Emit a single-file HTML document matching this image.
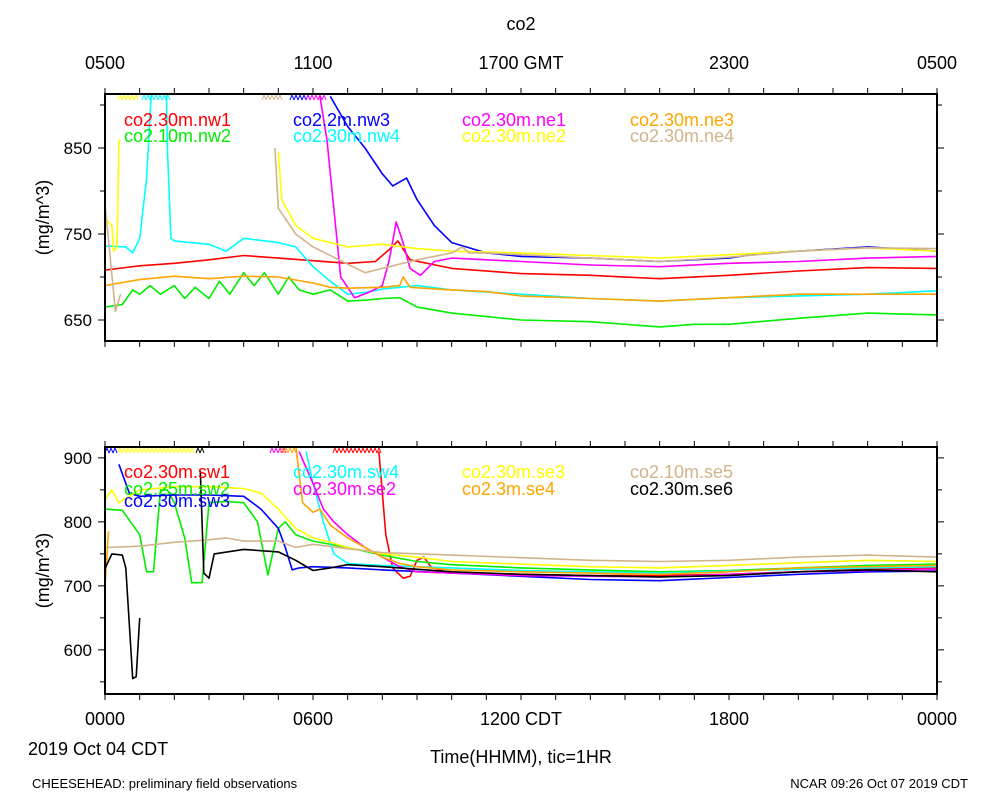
<!DOCTYPE html>
<html><head><meta charset="utf-8"><style>
body{margin:0;background:#fff;}
svg{display:block;font-family:"Liberation Sans",sans-serif;}
</style></head><body>
<svg id="chart" width="1000" height="800" viewBox="0 0 1000 800" xmlns="http://www.w3.org/2000/svg">
<text x="521" y="30" font-size="18" text-anchor="middle">co2</text>
<g id="top"></g><g id="bot"></g>
<text x="28" y="755" font-size="18">2019 Oct 04 CDT</text>
<text x="521" y="763" font-size="18" text-anchor="middle">Time(HHMM), tic=1HR</text>
<text x="32" y="788" font-size="13">CHEESEHEAD: preliminary field observations</text>
<text x="968" y="788" font-size="13" text-anchor="end">NCAR 09:26 Oct 07 2019 CDT</text>
</svg>
<script>
// ---- data (time in hours from 0000 CDT, values in mg/m^3; null = gap) ----
const topNames=["co2.30m.nw1","co2.10m.nw2","co2.2m.nw3","co2.30m.nw4","co2.30m.ne1","co2.30m.ne2","co2.30m.ne3","co2.30m.ne4"];
const topColors=["#ff0000","#00ee00","#0000ff","#00ffff","#ff00ff","#ffff00","#ffa500","#d2b48c"];
const nw1T=[0,1,2,3,4,5,6,7,7.8,8.2,8.45,8.8,10,12,14,16,18,20,22,24];
const nw1V=[708,713,716,720,725,722,719,716,718,732,742,720,710,704,702,698,702,707,711,710];
const nw2T=[0,0.5,0.8,1,1.3,1.6,2,2.3,2.6,3,3.3,3.6,4,4.3,4.6,5,5.3,5.6,6,6.5,7,7.5,8,8.5,9,10,12,14,16,17,18,20,22,24];
const nw2V=[665,668,685,680,690,680,690,675,688,675,695,680,705,690,705,680,700,685,680,685,672,673,675,676,665,658,650,648,642,645,645,652,658,656];
const nw3T=[6.5,7,7.5,8,8.3,8.7,9,9.5,10,11,12,14,16,18,19,20,22,24];
const nw3V=[910,875,850,820,806,815,790,760,740,728,724,722,718,722,728,730,735,730];
const nw4T=[0,0.6,0.8,1,1.2,1.4,1.75,1.8,1.9,2,3,3.5,4,5,5.5,6,6.5,7,7.5,8,9,10,12,14,16,18,20,22,24];
const nw4V=[736,735,728,745,815,960,960,850,745,742,738,730,745,740,735,712,695,680,682,686,690,685,680,675,672,676,678,680,684];
const ne1T=[6.2,6.4,6.8,7.2,7.6,8,8.2,8.4,8.6,8.8,9.1,9.5,10,12,14,16,18,20,22,24];
const ne1V=[910,860,700,676,682,690,720,764,740,710,702,718,722,718,714,712,716,718,722,724];
const ne2T=[0,0.2,0.25,0.35,0.4,0.41,5.0,5.1,5.5,6,7,8,9,10,12,14,16,18,20,22,24];
const ne2V=[768,760,730,735,860,null,845,790,760,745,735,738,733,730,728,725,722,726,730,734,730];
const ne3T=[0,1,2,3,4,5,6,6.5,7,8,8.5,8.6,8.8,10,11,12,14,16,18,20,24];
const ne3V=[690,697,701,698,701,700,693,688,687,688,690,700,688,685,683,678,675,672,676,680,680];
const ne4T=[0,0.3,0.45,0.46,4.9,5,5.5,6,7,7.5,8,9,10,10.3,10.5,11,12,14,16,18,20,22,24];
const ne4V=[785,660,680,null,850,780,750,735,715,705,710,720,728,735,728,728,726,722,718,723,730,734,733];

const botNames=["co2.30m.sw1","co2.25m.sw2","co2.30m.sw3","co2.30m.sw4","co2.30m.se2","co2.30m.se3","co2.3m.se4","co2.10m.se5","co2.30m.se6"];
const botColors=["#ff0000","#00ee00","#0000ff","#00ffff","#ff00ff","#ffff00","#ffa500","#d2b48c","#000000"];
const sw1T=[7.9,8.1,8.3,8.6,8.8,9.0,9.2,9.4,9.8,10,12,14,16,18,20,22,24];
const sw1V=[910,780,728,712,715,740,745,730,722,720,718,716,716,718,722,726,728];
const sw2T=[0,0.5,1.0,1.2,1.4,1.6,1.8,2.0,2.3,2.5,2.8,3.0,3.5,4.0,4.4,4.7,5,5.2,5.5,6,7,8,9,10,12,14,16,18,20,22,24];
const sw2V=[820,818,780,722,722,850,850,830,775,705,705,830,832,830,800,717,790,800,780,770,760,748,738,733,728,725,722,724,728,732,734];
const sw3T=[0.4,0.7,1,2,3,4,4.5,5,5.2,5.4,5.6,6,7,8,10,12,14,16,18,20,22,24];
const sw3V=[890,845,840,842,842,840,820,790,760,725,728,730,728,725,720,715,710,708,713,718,722,723];
const sw4T=[5.8,6.0,6.3,6.6,7,8,10,12,16,20,24];
const sw4V=[910,860,800,750,735,732,728,724,720,726,730];
const se2T=[5.6,6.0,6.3,6.6,7,7.5,8,8.5,9,10,12,16,20,24];
const se2V=[910,860,820,800,780,760,745,730,722,720,716,714,722,726];
const se3T=[0,0.2,0.4,1,2,3,4,4.5,5,5.5,6,6.5,7,8,9,10,12,14,16,18,20,22,24];
const se3V=[835,850,830,850,855,855,852,845,820,790,775,768,760,750,745,738,734,730,728,732,736,740,738];
const se4T=[0,0.1,0.11,5.5,5.7,6,6.2,6.5,7,7.5,8,8.5,9,10,12,14,16,18,20,24];
const se4V=[700,785,null,920,830,815,820,795,775,760,745,735,730,725,722,720,718,722,728,732];
const se5T=[0,1,2,3,3.5,4,5,5.5,6,7,8,10,12,14,16,18,20,22,24];
const se5V=[760,762,768,772,775,770,770,760,765,758,752,748,744,740,738,740,745,748,745];
const se6T=[0,0.2,0.5,0.6,0.8,0.9,1.0,1.01,2.75,2.85,3.0,3.15,4,5,5.5,6,6.5,7,8,10,12,16,18,20,22,24];
const se6V=[727,750,748,728,555,558,650,null,880,720,712,750,757,753,740,724,728,733,730,722,718,714,716,722,725,722];

const topSeries=[[nw1T,nw1V],[nw2T,nw2V],[nw3T,nw3V],[nw4T,nw4V],[ne1T,ne1V],[ne2T,ne2V],[ne3T,ne3V],[ne4T,ne4V]];
const botSeries=[[sw1T,sw1V],[sw2T,sw2V],[sw3T,sw3V],[sw4T,sw4V],[se2T,se2V],[se3T,se3V],[se4T,se4V],[se5T,se5V],[se6T,se6V]];
const topYTicks=[650,750,850];
const botYTicks=[600,700,800,900];
const botXLabels=["0000","0600","1200 CDT","1800","0000"];
const topXLabels=["0500","1100","1700 GMT","2300","0500"];

const NS="http://www.w3.org/2000/svg";
const X0=105,X1=937;
function xs(t){return X0+(X1-X0)*t/24;}
function mk(tag,attrs,parent){const e=document.createElementNS(NS,tag);for(const k in attrs)e.setAttribute(k,attrs[k]);parent.appendChild(e);return e;}

function panel(g,name,y0,y1,vmin,vmax,series,colors,names,yTicks,minorStep,legendPos,markers){
  const ys=v=>y1-(v-vmin)/(vmax-vmin)*(y1-y0);
  const clipId="clip-"+name;
  const cp=mk("clipPath",{id:clipId},g);mk("rect",{x:X0,y:y0,width:X1-X0,height:y1-y0},cp);
  const ax=mk("g",{},g);
  
  
  for(let h=0;h<=24;h++){const x=xs(h);
    mk("line",{x1:x,y1:y0,x2:x,y2:y0-6,stroke:"#000","stroke-width":1},ax);
    mk("line",{x1:x,y1:y1,x2:x,y2:y1+6,stroke:"#000","stroke-width":1},ax);}
  const first=Math.ceil(vmin/minorStep)*minorStep;
  for(let v=first;v<=vmax;v+=minorStep){const y=ys(v);const major=yTicks.includes(v);const L=major?7:5;
    mk("line",{x1:X0,y1:y,x2:X0-L,y2:y,stroke:"#000"},ax);
    mk("line",{x1:X1,y1:y,x2:X1+L,y2:y,stroke:"#000"},ax);}
  yTicks.forEach(v=>{const t=mk("text",{x:92,y:ys(v)+6,"font-size":17,"text-anchor":"end"},ax);t.textContent=v;
    
    });
  const yt=mk("text",{x:0,y:0,"font-size":18,"text-anchor":"middle",transform:`translate(49,${(y0+y1)/2}) rotate(-90)`},ax);
  yt.textContent="(mg/m^3)";
  
  
  const lg=mk("g",{"clip-path":`url(#${clipId})`},g);
  series.forEach((s,i)=>{let d="",pen=false;
    for(let k=0;k<s[0].length;k++){const v=s[1][k];if(v===null){pen=false;continue;}
      d+=(pen?"L":"M")+xs(s[0][k]).toFixed(1)+" "+ys(v).toFixed(1);pen=true;}
    const p=mk("path",{d:d,fill:"none",stroke:colors[i],"stroke-width":1.6,"stroke-linejoin":"round"},lg);
    
    });
  markers.forEach(m=>{let d="";for(let x=m[0];x<m[1];x+=4){d+=`M${x} ${y0+6}L${x+2} ${y0+1}L${x+4} ${y0+6}`;}
    const p=mk("path",{d:d,fill:"none",stroke:m[2],"stroke-width":1},g);
    
    });
  mk("rect",{x:X0,y:y0,width:X1-X0,height:y1-y0,fill:"none",stroke:"#000","stroke-width":2},g);
  legendPos.forEach((lp,i)=>{const t=mk("text",{x:lp[0],y:lp[1],"font-size":18,fill:colors[i]},g);t.textContent=names[i];
    
    });
}
const gt=document.getElementById("top"),gb=document.getElementById("bot");
panel(gt,"top-panel",94,341,625.6,912.8,topSeries,topColors,topNames,topYTicks,50,
 [[124,126],[124,142],[293,126],[293,142],[462,126],[462,142],[630,126],[630,142]],
 [[118,138,"#ffff00"],[142,168,"#00ffff"],[262,282,"#d2b48c"],[290,310,"#0000ff"],[306,326,"#ff00ff"]]);
panel(gb,"bottom-panel",447,694,531,917,botSeries,botColors,botNames,botYTicks,50,
 [[124,478],[124,495],[124,507],[293,478],[293,495],[462,478],[462,495],[630,478],[630,495]],
 [[105,115,"#0000ff"],[118,192,"#ffff00"],[196,202,"#000000"],[270,284,"#ff00ff"],[280,296,"#ffa500"],[333,380,"#ff0000"]]);
const svg=document.getElementById("chart");
topXLabels.forEach((l,i)=>{const t=mk("text",{x:xs(i*6),y:69,"font-size":18,"text-anchor":"middle"},svg);t.textContent=l;
  
  });
botXLabels.forEach((l,i)=>{const t=mk("text",{x:xs(i*6),y:725,"font-size":18,"text-anchor":"middle"},svg);t.textContent=l;
  
  });
</script>
</body></html>
